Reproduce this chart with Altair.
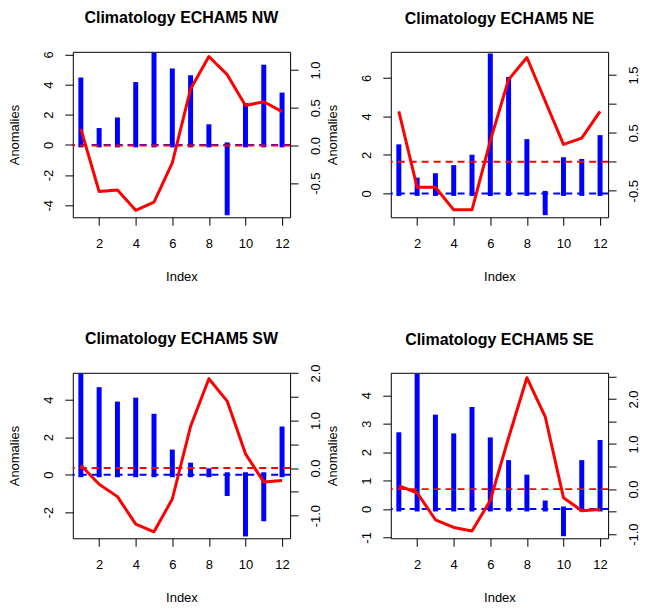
import altair as alt
import pandas as pd

month = list(range(1, 13))

titles = ["Climatology ECHAM5 NW", "Climatology ECHAM5 NE",
          "Climatology ECHAM5 SW", "Climatology ECHAM5 SE"]

nw_bar = [4.3, 0.95, 1.65, 4.0, 5.95, 4.9, 4.45, 1.2, -4.5, 2.6, 5.15, 3.3]
nw_line = [0.22, -0.61, -0.59, -0.86, -0.75, -0.23, 0.75, 1.18, 0.94, 0.53, 0.58, 0.45]

ne_bar = [2.42, 0.69, 0.92, 1.34, 1.88, 7.14, 5.92, 2.69, -1.0, 1.75, 1.66, 2.9]
ne_line = [0.87, -0.44, -0.44, -0.83, -0.83, 0.36, 1.42, 1.80, 1.05, 0.30, 0.41, 0.87]

sw_bar = [5.26, 4.54, 3.77, 3.98, 3.12, 1.21, 0.51, 0.21, -1.0, -3.16, -2.35, 2.44]
sw_line = [0.06, -0.34, -0.60, -1.18, -1.34, -0.65, 0.88, 1.88, 1.41, 0.30, -0.29, -0.26]

se_bar = [2.61, 4.67, 3.23, 2.57, 3.5, 2.43, 1.63, 1.12, 0.21, -0.87, 1.63, 2.34]
se_line = [0.07, -0.08, -0.68, -0.85, -0.93, -0.25, 1.14, 2.47, 1.61, -0.19, -0.48, -0.45]

# axis domains and tick values
nw_left, nw_right = [-4.8, 6.17], [-0.952, 1.243]
ne_left, ne_right = [-1.24, 7.36], [-0.958, 1.899]
sw_left, sw_right = [-3.39, 5.44], [-1.476, 2.005]
se_left, se_right = [-1.03, 4.79], [-1.09, 2.58]

nw_lticks = [-4, -2, 0, 2, 4, 6]
ne_lticks = [0, 2, 4, 6]
sw_lticks = [-2, 0, 2, 4]
se_lticks = [-1, 0, 1, 2, 3, 4]

nw_rticks = [-0.5, 0.0, 0.5, 1.0]
nw_rlabels = [-0.5, 0.0, 0.5, 1.0]
ne_rticks = [-0.5, 0.0, 0.5, 1.0, 1.5]
ne_rlabels = [-0.5, 0.5, 1.5]
sw_rticks = [-1.0, -0.5, 0.0, 0.5, 1.0, 1.5, 2.0]
sw_rlabels = [-1.0, 0.0, 1.0, 2.0]
se_rticks = [-1.0, -0.5, 0.0, 0.5, 1.0, 1.5, 2.0, 2.5]
se_rlabels = [-1.0, 0.0, 1.0, 2.0]

x_ticks = [2, 4, 6, 8, 10, 12]
x_domain = [0.56, 12.44]

FONT = "Liberation Sans"
BLUE = "#0000FF"
RED = "#FF0000"
W, H = 218, 166


def panel(title, bars, line, ldom, rdom, lticks, rticks, rlabels, toff):
    df = pd.DataFrame({"Index": month, "bar": bars, "line": line})
    zero = pd.DataFrame({"z": [0.0]})
    x = alt.X("Index:Q",
              scale=alt.Scale(domain=x_domain, nice=False, zero=False),
              axis=alt.Axis(values=x_ticks, title="Index", format="d",
                            labelPadding=12, titleX=W / 2, titleY=53))
    lscale = alt.Scale(domain=ldom, nice=False, zero=False)
    rscale = alt.Scale(domain=rdom, nice=False, zero=False)
    lab_list = "[" + ",".join(str(v) for v in rlabels) + "]"

    bar = alt.Chart(df).mark_rule(color=BLUE, strokeWidth=5, strokeCap="square").encode(
        x=x,
        y=alt.Y("bar:Q", scale=lscale,
                axis=alt.Axis(orient="left", values=lticks, title="Anomalies",
                              labelExpr="(datum.value < 0 ? '-' : '') + format(abs(datum.value), 'd')",
                              labelAngle=-90, labelAlign="center", labelBaseline="bottom",
                              labelPadding=9, titleX=-51, titleY=H / 2)),
        y2=alt.datum(0),
    )
    brule = alt.Chart(zero).mark_rule(color=BLUE, strokeWidth=2, strokeDash=[7, 5]).encode(
        y=alt.Y("z:Q", scale=lscale, axis=None)
    )
    rline = alt.Chart(df).mark_line(color=RED, strokeWidth=3, strokeJoin="round").encode(
        x=x,
        y=alt.Y("line:Q", scale=rscale,
                axis=alt.Axis(orient="right", values=rticks, title=None,
                              labelExpr="indexof(" + lab_list + ", datum.value) >= 0 ? "
                                        "(datum.value < 0 ? '-' : '') + format(abs(datum.value), '.1f') : ''",
                              labelAngle=-90, labelAlign="center", labelBaseline="top",
                              labelPadding=11)),
    )
    rrule = alt.Chart(zero).mark_rule(color=RED, strokeWidth=2, strokeDash=[7, 5]).encode(
        y=alt.Y("z:Q", scale=rscale, axis=None)
    )
    return alt.layer(bar, brule, rline, rrule).resolve_scale(
        y="independent"
    ).properties(
        width=W, height=H,
        title=alt.TitleParams(title, fontSize=16, font=FONT, fontWeight="bold",
                              anchor="middle", frame="group", offset=toff, color="black"),
    )


nw = panel(titles[0], nw_bar, nw_line, nw_left, nw_right, nw_lticks, nw_rticks, nw_rlabels, 25)
ne = panel(titles[1], ne_bar, ne_line, ne_left, ne_right, ne_lticks, ne_rticks, ne_rlabels, 25)
sw = panel(titles[2], sw_bar, sw_line, sw_left, sw_right, sw_lticks, sw_rticks, sw_rlabels, 17)
se = panel(titles[3], se_bar, se_line, se_left, se_right, se_lticks, se_rticks, se_rlabels, 25)

chart = alt.concat(
    nw, ne, sw, se, columns=2, spacing={"row": 46, "column": 3}
).properties(
    padding={"left": 0, "top": 0, "right": 0, "bottom": 0},
    background="white",
).configure_view(
    stroke="black", strokeWidth=1
).configure_axis(
    domain=False, grid=False, ticks=True, tickSize=8, tickColor="black", tickWidth=1,
    labelFont=FONT, labelFontSize=13, labelColor="black",
    titleFont=FONT, titleFontSize=13, titleFontWeight="normal", titleColor="black",
    labelOverlap=False, labelFlush=False, labelBound=False,
)

chart.save("out.html", embed_options={"renderer": "svg", "actions": False})
